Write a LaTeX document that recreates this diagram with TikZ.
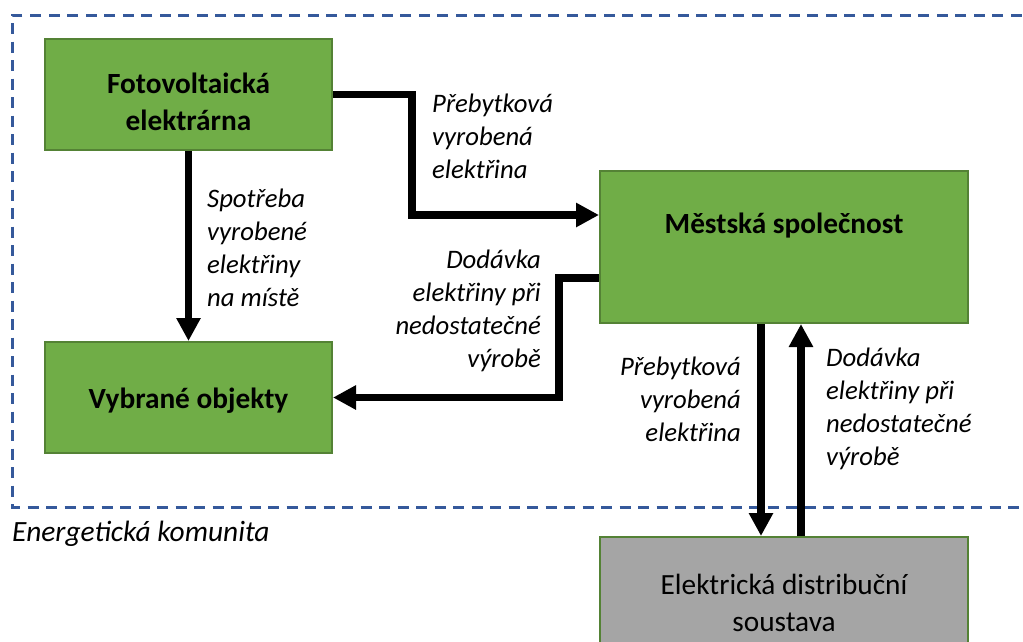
\documentclass[tikz,border=0pt]{standalone}
\usepackage{fontspec}
\setmainfont{Carlito}
\usetikzlibrary{arrows.meta}
\definecolor{boxgreen}{HTML}{70AD47}
\definecolor{boxedge}{HTML}{548235}
\definecolor{gridgray}{HTML}{A5A5A5}
\definecolor{commblue}{HTML}{35599B}
\tikzset{
  unit/.style={draw=boxedge, line width=2pt, fill=boxgreen, inner sep=0pt},
  unitname/.style={inner sep=0pt, align=center, font=\fontsize{29.3}{37}\selectfont\bfseries},
  flow/.style={line width=7.5pt, line join=miter, -{Triangle[length=23pt,width=23pt]}},
  flowlabel/.style={inner sep=0pt, font=\fontsize{26.7}{33}\selectfont\itshape},
  community/.style={draw=commblue, line width=3pt, dash pattern=on 11pt off 7.5pt}
}
\begin{document}
\begin{tikzpicture}[x=1pt, y=-1pt]
  \clip (0,0) rectangle (1023,641);
  \fill[white] (0,0) rectangle (1023,641);

  % community boundary (open to the right)
  \draw[community] (1040,15) -- (12,15) -- (12,507) -- (1040,507);
  \node[inner sep=0pt, font=\fontsize{29.4}{36}\selectfont\itshape, anchor=north west]
    (commname) at (12,521) {Energetická komunita};

  % units
  \node[unit, minimum width=287pt, minimum height=111pt] (pv) at (188.5,94.5) {};
  \node[unitname] (pvname) at (188.5,102) {Fotovoltaická\\elektrárna};
  \node[unit, minimum width=287pt, minimum height=111pt] (obj) at (188.5,397.5) {};
  \node[unitname] (objname) at (188.5,400.5) {Vybrané objekty};
  \node[unit, minimum width=368pt, minimum height=152pt] (city) at (784,247) {};
  \node[unitname] (cityname) at (784,226) {Městská společnost};
  \node[unit, fill=gridgray, minimum width=368pt, minimum height=126pt] (grid) at (784,600) {};
  \node[unitname, font=\fontsize{29.3}{37}\selectfont] (gridname) at (784,603)
    {Elektrická distribuční\\soustava};

  % connection points on the city box
  \coordinate (cityIn)  at ([yshift=32pt]city.west);
  \coordinate (cityOut) at ([yshift=-31pt]city.west);

  % energy flows
  \draw[flow] (pv.east) -| ([xshift=-187pt]cityIn) -- (cityIn);
  \draw[flow] (pv.south) -- (obj.north);
  \draw[flow] (cityOut) -| ([xshift=226pt]obj.east) -- (obj.east);
  \draw[flow] ([xshift=-23pt]city.south) -- ([xshift=-23pt]grid.north);
  \draw[flow] ([xshift=17pt]grid.north) -- ([xshift=17pt]city.south);

  % flow labels
  \node[flowlabel, align=left, anchor=north west] (surplusA) at (432,94)
    {Přebytková\\vyrobená\\elektřina};
  \node[flowlabel, align=left, anchor=north west] (selfuse) at (207,189)
    {Spotřeba\\vyrobené\\elektřiny\\na místě};
  \node[flowlabel, align=right, anchor=north east] (supplyA) at (541,250)
    {Dodávka\\elektřiny při\\nedostatečné\\výrobě};
  \node[flowlabel, align=right, anchor=north east] (surplusB) at (741,357)
    {Přebytková\\vyrobená\\elektřina};
  \node[flowlabel, align=left, anchor=north west] (supplyB) at (826,348)
    {Dodávka\\elektřiny při\\nedostatečné\\výrobě};
\end{tikzpicture}
\end{document}
